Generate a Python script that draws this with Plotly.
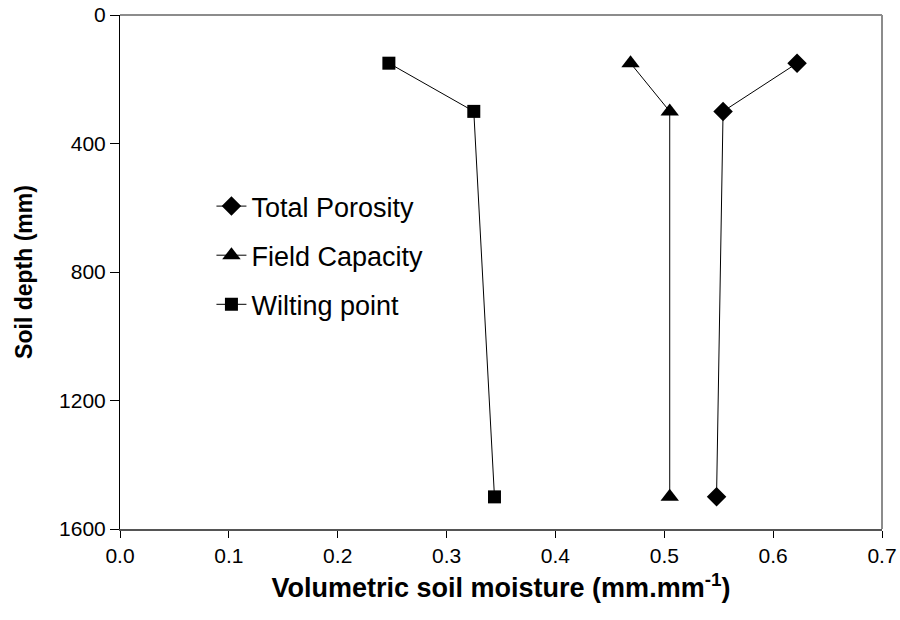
import plotly.graph_objects as go

# soil depth (mm) for each sampling layer
depth = [150, 300, 1500]

total_porosity = [0.622, 0.554, 0.548]
field_capacity = [0.469, 0.505, 0.505]
wilting_point = [0.247, 0.325, 0.344]

series = [
    ("Total Porosity", total_porosity, "diamond", 15),
    ("Field Capacity", field_capacity, "triangle-up", 16),
    ("Wilting point", wilting_point, "square", 13),
]

fig = go.Figure()
for i, (name, vals, sym, size) in enumerate(series):
    fig.add_trace(go.Scatter(
        x=vals, y=depth, name=name, mode="lines+markers",
        line=dict(color="black", width=1),
        marker=dict(symbol=sym, size=size, color="black"),
        legendgroup=str(i),
    ))

fig.update_layout(
    width=900, height=620,
    margin=dict(l=120, r=18, t=15, b=91),
    paper_bgcolor="white", plot_bgcolor="white",
    font=dict(family="Liberation Sans, Arial", color="black", size=21),
    legend=dict(
        x=0.12, y=0.675, xanchor="left", yanchor="top",
        font=dict(size=27), traceorder="grouped", tracegroupgap=11,
        bgcolor="rgba(0,0,0,0)",
    ),
    xaxis=dict(
        range=[0, 0.7], dtick=0.1, tickformat=".1f",
        showgrid=False, zeroline=False, automargin=False,
        showline=True, linecolor="#555555", linewidth=2,
        ticks="outside", ticklen=7, tickcolor="black",
        title=dict(text="<b>Volumetric soil moisture (mm.mm<sup>-1</sup>)</b>",
                   font=dict(size=27), standoff=12),
    ),
    yaxis=dict(
        range=[1600, 0], dtick=400,
        showgrid=False, zeroline=False, automargin=False,
        showline=True, linecolor="black", linewidth=1,
        ticks="outside", ticklen=9, tickcolor="black",
        title=dict(text="<b>Soil depth (mm)</b>", font=dict(size=23), standoff=20),
    ),
    shapes=[
        dict(type="line", xref="paper", yref="paper", x0=0, x1=1, y0=1, y1=1,
             line=dict(color="#8c8c8c", width=2)),
        dict(type="line", xref="paper", yref="paper", x0=1, x1=1, y0=0, y1=1,
             line=dict(color="#8c8c8c", width=2)),
    ],
)

# drop the default 8px body margin so the figure fills the window exactly
fig.write_html("out.html", config={"displayModeBar": False},
               post_script="document.body.style.margin='0';")
